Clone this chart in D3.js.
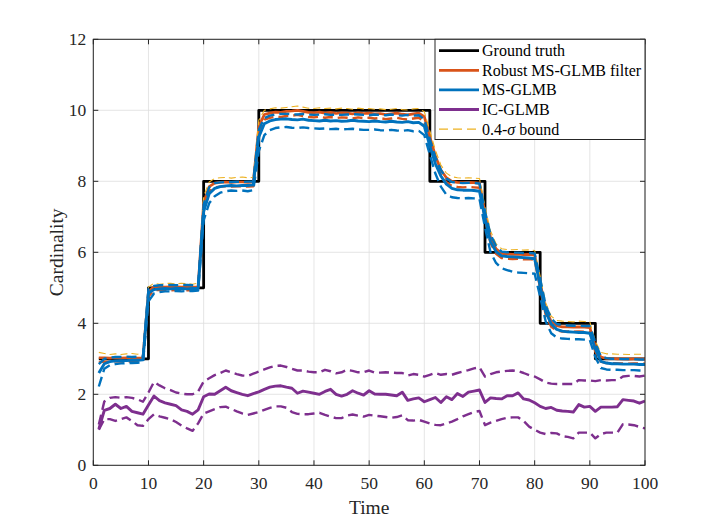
<!DOCTYPE html>
<html><head><meta charset="utf-8">
<script src="https://cdn.jsdelivr.net/npm/d3@7/dist/d3.min.js"></script>
<style>body{margin:0;background:#fff;} svg{display:block;font-family:"Liberation Serif","Times New Roman",serif;}</style>
</head><body>
<svg id="c" width="714" height="524"></svg>
<script>
const times = [1,2,3,4,5,6,7,8,9,10,11,12,13,14,15,16,17,18,19,20,21,22,23,24,25,26,27,28,29,30,31,32,33,34,35,36,37,38,39,40,41,42,43,44,45,46,47,48,49,50,51,52,53,54,55,56,57,58,59,60,61,62,63,64,65,66,67,68,69,70,71,72,73,74,75,76,77,78,79,80,81,82,83,84,85,86,87,88,89,90,91,92,93,94,95,96,97,98,99,100];
const xTicks = [0,10,20,30,40,50,60,70,80,90,100];
const yTicks = [0,2,4,6,8,10,12];
const legendLabels = ["Ground truth","Robust MS-GLMB filter","MS-GLMB","IC-GLMB","0.4-\u03c3 bound"];

const groundTruth = [3,3,3,3,3,3,3,3,3,5, 5,5,5,5,5,5,5,5,5,8, 8,8,8,8,8,8,8,8,8,10,
 10,10,10,10,10,10,10,10,10,10, 10,10,10,10,10,10,10,10,10,10, 10,10,10,10,10,10,10,10,10,10,
 8,8,8,8,8,8,8,8,8,8, 6,6,6,6,6,6,6,6,6,6, 4,4,4,4,4,4,4,4,4,4, 3,3,3,3,3,3,3,3,3,3];

const robustMean = [3.03,3.03,3.02,3.03,3.02,3.03,3.03,3.02,3.03,4.9,
 5.03,5.03,5.02,5.03,5.03,5.02,5.03,5.02,5.03,7.4,
 7.85,7.95,7.97,7.98,7.97,7.98,7.98,7.97,7.98,9.55,
 9.88,9.92,9.95,9.94,9.97,9.98,10.0,9.97,9.94,9.93,
 9.95,9.92,9.94,9.91,9.93,9.92,9.9,9.93,9.91,9.92,
 9.9,9.91,9.88,9.9,9.92,9.89,9.87,9.9,9.92,9.82,
 9.25,8.72,8.32,8.1,8.0,7.97,7.96,7.97,7.96,7.95,
 7.1,6.42,6.1,5.97,5.95,5.94,5.95,5.93,5.94,5.92,
 5.15,4.4,4.05,3.93,3.9,3.9,3.89,3.9,3.89,3.88,
 3.35,3.05,3.01,3.01,3.0,3.0,2.99,3.0,3.0,2.99];
const robustUpper = [3.18,3.15,3.12,3.14,3.12,3.14,3.15,3.13,3.14,5.02,
 5.13,5.1,5.12,5.13,5.11,5.13,5.12,5.1,5.13,7.58,
 7.98,8.08,8.1,8.11,8.09,8.11,8.12,8.1,8.11,9.72,
 10.0,10.04,10.07,10.06,10.08,10.1,10.12,10.09,10.06,10.05,
 10.07,10.05,10.06,10.04,10.06,10.05,10.03,10.06,10.04,10.05,
 10.03,10.04,10.02,10.03,10.05,10.02,10.01,10.04,10.05,9.96,
 9.42,8.88,8.46,8.23,8.13,8.1,8.09,8.1,8.09,8.08,
 7.28,6.6,6.24,6.1,6.08,6.07,6.08,6.06,6.07,6.05,
 5.32,4.58,4.2,4.08,4.06,4.05,4.04,4.06,4.05,4.04,
 3.5,3.18,3.14,3.14,3.13,3.13,3.12,3.13,3.13,3.12];
const robustLower = [2.9,2.92,2.92,2.93,2.92,2.93,2.92,2.92,2.93,4.76,
 4.93,4.94,4.93,4.93,4.94,4.92,4.93,4.93,4.93,7.22,
 7.72,7.83,7.85,7.86,7.85,7.86,7.86,7.85,7.86,9.38,
 9.74,9.79,9.82,9.81,9.84,9.85,9.87,9.84,9.81,9.8,
 9.82,9.79,9.81,9.78,9.8,9.79,9.77,9.8,9.78,9.79,
 9.77,9.78,9.75,9.77,9.79,9.76,9.74,9.77,9.79,9.68,
 9.08,8.56,8.18,7.97,7.87,7.84,7.83,7.84,7.83,7.82,
 6.92,6.26,5.96,5.84,5.82,5.81,5.82,5.8,5.81,5.79,
 4.98,4.24,3.9,3.8,3.77,3.77,3.76,3.77,3.76,3.75,
 3.2,2.92,2.88,2.88,2.87,2.87,2.86,2.87,2.87,2.86];

const msMean = [2.6,2.86,2.92,2.94,2.95,2.95,2.96,2.96,2.97,4.85,
 4.95,4.97,4.98,4.97,4.98,4.98,4.97,4.98,4.98,7.15,
 7.65,7.8,7.85,7.87,7.88,7.87,7.88,7.88,7.9,9.25,
 9.62,9.7,9.74,9.75,9.76,9.74,9.73,9.75,9.72,9.71,
 9.7,9.72,9.7,9.71,9.69,9.7,9.72,9.7,9.69,9.68,
 9.7,9.68,9.67,9.69,9.67,9.66,9.68,9.65,9.66,9.55,
 9.0,8.5,8.15,7.92,7.8,7.76,7.75,7.75,7.74,7.72,
 6.95,6.3,6.02,5.9,5.88,5.87,5.86,5.85,5.84,5.82,
 5.05,4.32,3.98,3.83,3.78,3.76,3.75,3.74,3.74,3.72,
 3.28,2.93,2.88,2.86,2.86,2.85,2.85,2.85,2.84,2.84];
const msUpper = [2.85,3.0,3.03,3.05,3.05,3.06,3.05,3.06,3.06,4.97,
 5.05,5.07,5.07,5.08,5.07,5.08,5.08,5.07,5.08,7.35,
 7.83,7.95,7.97,7.98,7.98,7.99,7.98,7.99,7.99,9.45,
 9.78,9.85,9.88,9.9,9.9,9.89,9.88,9.9,9.88,9.87,
 9.88,9.89,9.87,9.88,9.87,9.88,9.89,9.88,9.87,9.86,
 9.88,9.87,9.86,9.88,9.86,9.85,9.87,9.85,9.86,9.75,
 9.18,8.68,8.32,8.08,7.98,7.96,7.95,7.96,7.95,7.94,
 7.15,6.5,6.18,6.02,6.0,5.99,5.99,5.98,5.98,5.97,
 5.25,4.5,4.14,3.98,3.95,3.94,3.93,3.93,3.92,3.92,
 3.45,3.07,3.02,3.0,3.0,2.99,2.99,2.99,2.98,2.98];
const msLower = [2.22,2.72,2.82,2.85,2.87,2.88,2.88,2.89,2.9,4.62,
 4.84,4.88,4.9,4.9,4.91,4.9,4.91,4.91,4.92,6.9,
 7.38,7.58,7.68,7.72,7.74,7.73,7.74,7.72,7.75,8.85,
 9.3,9.44,9.5,9.52,9.53,9.51,9.5,9.52,9.5,9.49,
 9.48,9.49,9.47,9.48,9.46,9.47,9.48,9.46,9.45,9.45,
 9.46,9.44,9.43,9.45,9.43,9.42,9.44,9.41,9.42,9.3,
 8.75,8.22,7.85,7.62,7.55,7.53,7.52,7.53,7.52,7.5,
 6.7,6.0,5.7,5.55,5.5,5.45,5.43,5.42,5.41,5.4,
 4.75,4.05,3.72,3.6,3.57,3.56,3.55,3.55,3.54,3.53,
 3.05,2.74,2.7,2.69,2.69,2.68,2.68,2.68,2.67,2.67];

const icMean = [1.02,1.55,1.6,1.72,1.6,1.66,1.52,1.48,1.44,1.7,
 1.95,1.82,1.76,1.72,1.68,1.56,1.52,1.44,1.56,1.93,
 2.01,2.0,2.1,2.2,2.1,2.05,2.0,1.96,2.02,2.07,
 2.14,2.2,2.23,2.24,2.2,2.17,2.03,2.09,2.06,2.03,
 2.0,2.08,2.14,2.0,1.95,2.0,2.1,2.03,1.98,2.1,
 2.01,2.0,2.0,1.98,1.96,2.06,1.83,1.87,1.9,1.79,
 1.85,1.91,1.77,1.93,1.85,2.02,1.94,2.06,2.09,2.12,
 1.77,1.9,1.88,1.87,1.96,1.96,2.04,1.87,1.84,1.76,
 1.66,1.6,1.63,1.55,1.53,1.52,1.5,1.71,1.64,1.66,
 1.52,1.64,1.64,1.64,1.65,1.85,1.83,1.81,1.75,1.81];
const icUpper = [1.15,1.8,1.9,1.92,1.9,1.92,1.9,1.86,1.79,2.05,
 2.35,2.25,2.17,2.12,2.05,2.02,2.0,2.0,2.08,2.36,
 2.45,2.54,2.6,2.67,2.62,2.57,2.53,2.52,2.58,2.64,
 2.7,2.76,2.8,2.81,2.77,2.72,2.67,2.67,2.64,2.62,
 2.62,2.69,2.65,2.59,2.62,2.69,2.66,2.62,2.62,2.67,
 2.61,2.61,2.62,2.61,2.6,2.6,2.53,2.57,2.55,2.5,
 2.55,2.6,2.55,2.57,2.55,2.6,2.64,2.68,2.73,2.76,
 2.5,2.57,2.62,2.64,2.66,2.67,2.65,2.6,2.54,2.5,
 2.42,2.33,2.3,2.29,2.29,2.29,2.29,2.4,2.39,2.39,
 2.37,2.4,2.39,2.4,2.4,2.5,2.52,2.52,2.5,2.53];
const icLower = [1.0,1.3,1.3,1.25,1.3,1.35,1.25,1.13,1.11,1.3,
 1.44,1.38,1.34,1.3,1.22,1.12,1.04,0.97,1.18,1.46,
 1.52,1.58,1.64,1.65,1.59,1.52,1.46,1.42,1.46,1.5,
 1.56,1.62,1.66,1.66,1.62,1.5,1.45,1.44,1.44,1.46,
 1.48,1.42,1.37,1.33,1.33,1.4,1.43,1.4,1.37,1.42,
 1.4,1.38,1.36,1.34,1.36,1.41,1.27,1.26,1.28,1.23,
 1.18,1.14,1.13,1.18,1.23,1.3,1.38,1.44,1.5,1.53,
 1.13,1.2,1.25,1.3,1.34,1.35,1.35,1.25,1.09,1.0,
 0.92,0.88,0.91,0.9,0.82,0.8,0.76,0.92,0.92,0.92,
 0.76,0.88,0.92,0.92,0.92,1.16,1.15,1.13,1.08,1.04];

const C = {black:"#000000", orange:"#D95319", blue:"#0072BD", purple:"#7E2F8E", yellow:"#EDB120", axis:"#262626", grid:"#dedede"};

const svg = d3.select("#c");
const L = 93.3, R = 645, T = 39.3, B = 465.3;
const x = d3.scaleLinear().domain([0,100]).range([L,R]);
const y = d3.scaleLinear().domain([0,12]).range([B,T]);

svg.append("rect").attr("x",L).attr("y",T).attr("width",R-L).attr("height",B-T).attr("fill","#fff");

// grid
const g = svg.append("g");
g.selectAll(".gx").data(xTicks).join("line").attr("x1",d=>x(d)).attr("x2",d=>x(d)).attr("y1",T).attr("y2",B).attr("stroke",C.grid).attr("stroke-width",0.8);
g.selectAll(".gy").data(yTicks).join("line").attr("y1",d=>y(d)).attr("y2",d=>y(d)).attr("x1",L).attr("x2",R).attr("stroke",C.grid).attr("stroke-width",0.8);

svg.append("clipPath").attr("id","clp").append("rect").attr("x",L).attr("y",T).attr("width",R-L).attr("height",B-T);
const plot = svg.append("g").attr("clip-path","url(#clp)");

const line = d3.line().x((d,i)=>x(times[i])).y(d=>y(d));
const step = d3.line().x((d,i)=>x(times[i])).y(d=>y(d)).curve(d3.curveStepAfter);

function draw(data, color, w, dash, gen){
  plot.append("path").datum(data).attr("d", gen||line).attr("fill","none").attr("stroke",color)
    .attr("stroke-width",w).attr("stroke-dasharray",dash||null).attr("stroke-linejoin","round");
}
draw(groundTruth, C.black, 2.8, null, step);
draw(robustLower, C.orange, 2.4, "10,5");
draw(robustMean, C.orange, 2.7);
draw(robustUpper, C.yellow, 1.1, "7,4");
draw(msUpper, C.blue, 2.4, "10,5");
draw(msLower, C.blue, 2.4, "10,5");
draw(msMean, C.blue, 2.9);
draw(icUpper, C.purple, 2.4, "10,5");
draw(icLower, C.purple, 2.4, "10,5");
draw(icMean, C.purple, 2.9);

// axes box
const ax = svg.append("g");
ax.append("rect").attr("x",L).attr("y",T).attr("width",R-L).attr("height",B-T).attr("fill","none").attr("stroke",C.axis).attr("stroke-width",1);
const tl = 5;
ax.selectAll(".tb").data(xTicks).join("line").attr("x1",d=>x(d)).attr("x2",d=>x(d)).attr("y1",B).attr("y2",B-tl).attr("stroke",C.axis);
ax.selectAll(".tt").data(xTicks).join("line").attr("x1",d=>x(d)).attr("x2",d=>x(d)).attr("y1",T).attr("y2",T+tl).attr("stroke",C.axis);
ax.selectAll(".tlf").data(yTicks).join("line").attr("y1",d=>y(d)).attr("y2",d=>y(d)).attr("x1",L).attr("x2",L+tl).attr("stroke",C.axis);
ax.selectAll(".trt").data(yTicks).join("line").attr("y1",d=>y(d)).attr("y2",d=>y(d)).attr("x1",R).attr("x2",R-tl).attr("stroke",C.axis);
ax.selectAll(".xl").data(xTicks).join("text").attr("x",d=>x(d)).attr("y",B+24).attr("text-anchor","middle")
  .attr("font-size",17.5).attr("fill",C.axis).text(d=>d);
ax.selectAll(".yl").data(yTicks).join("text").attr("x",L-7).attr("y",d=>y(d)+6).attr("text-anchor","end")
  .attr("font-size",17.5).attr("fill",C.axis).text(d=>d);
ax.append("text").attr("x",(L+R)/2).attr("y",514).attr("text-anchor","middle").attr("font-size",19.5).attr("fill",C.axis).text("Time");
ax.append("text").attr("transform",`translate(63,${(T+B)/2}) rotate(-90)`).attr("text-anchor","middle").attr("font-size",19.5).attr("fill",C.axis).text("Cardinality");

// legend
const lg = svg.append("g");
lg.append("rect").attr("x",435).attr("y",T).attr("width",R-435).attr("height",139.5-T).attr("fill","#fff").attr("stroke",C.axis).attr("stroke-width",1);
const legStyle = [[C.black,2.8,null],[C.orange,2.7,null],[C.blue,2.9,null],[C.purple,2.9,null],[C.yellow,1.1,"9,5"]];
legendLabels.forEach((t,i)=>{
  const cy = 50.7 + i*19.6;
  lg.append("line").attr("x1",439).attr("x2",479).attr("y1",cy).attr("y2",cy).attr("stroke",legStyle[i][0]).attr("stroke-width",legStyle[i][1]).attr("stroke-dasharray",legStyle[i][2]);
  const tx = lg.append("text").attr("x",482).attr("y",cy+5.5).attr("font-size",16).attr("fill","#000");
  if(t.indexOf("\u03c3")>=0){
    const parts = t.split("\u03c3");
    tx.append("tspan").text(parts[0]);
    tx.append("tspan").attr("font-style","italic").text("\u03c3");
    tx.append("tspan").text(parts[1]);
  } else tx.text(t);
});
</script>
</body></html>
